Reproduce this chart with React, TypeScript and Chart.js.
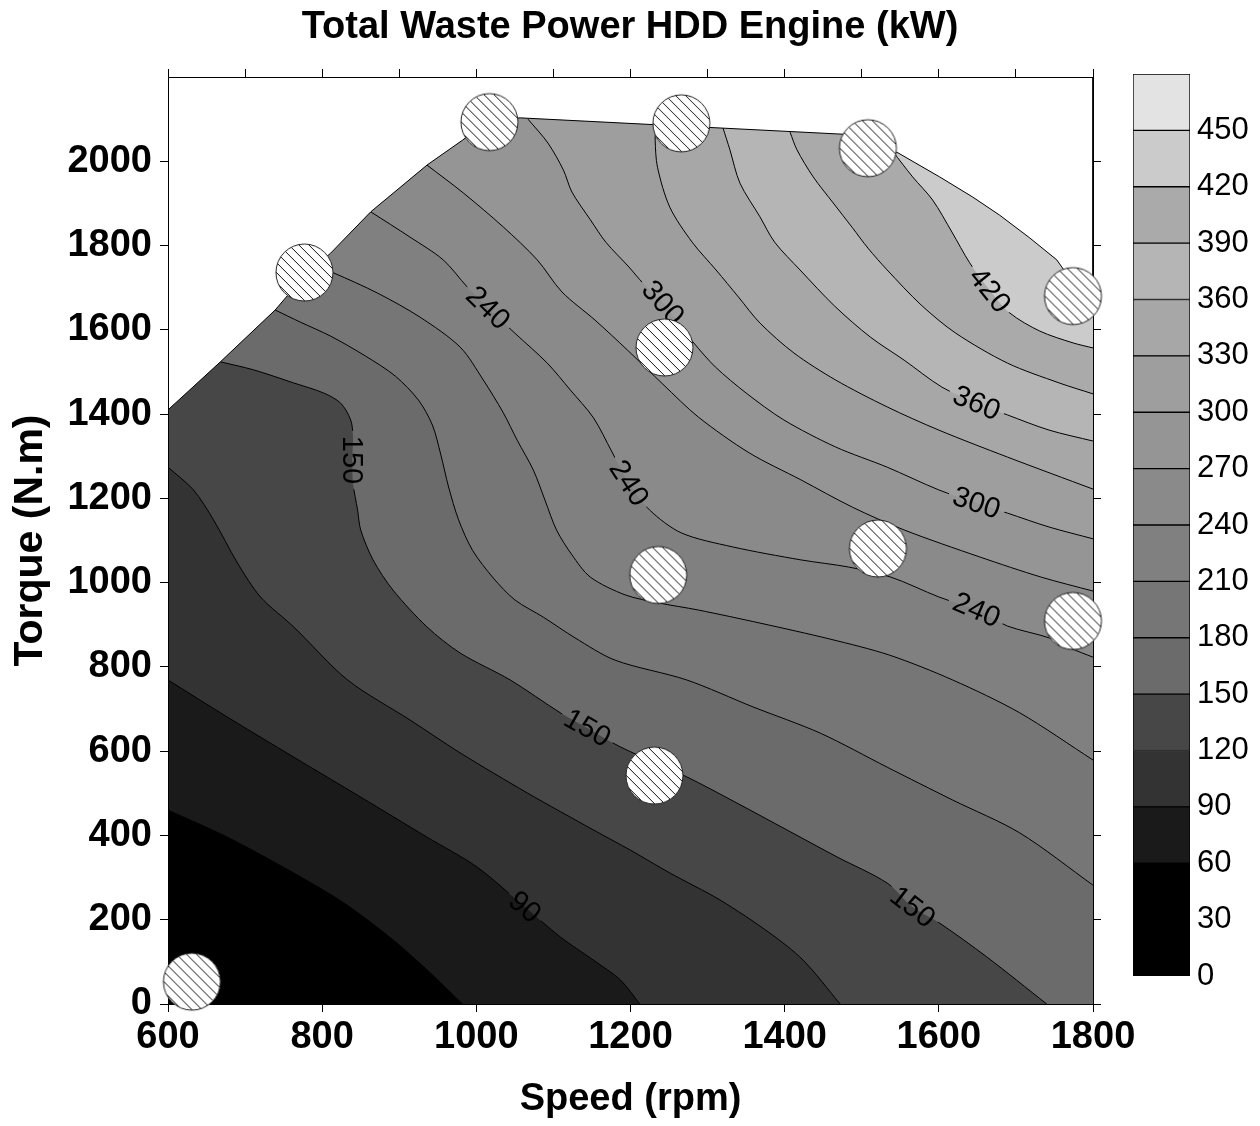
import React, { useEffect, useRef } from 'react';
import { Chart, registerables } from 'chart.js';

Chart.register(...registerables);

const FONT = "'Liberation Sans', Arial, Helvetica, sans-serif";
const LABEL_FONT = `29px ${FONT}`;
const TENSION = 0.3;

// Axis ticks
const speedTicks = [600, 800, 1000, 1200, 1400, 1600, 1800];
const speedMinorTicks = [600, 700, 800, 900, 1000, 1100, 1200, 1300, 1400, 1500, 1600, 1700, 1800];
const torqueTicks = [0, 200, 400, 600, 800, 1000, 1200, 1400, 1600, 1800, 2000];

// Colour scale (kW): band edges, their labels and fills
const legendEdges = [0, 30, 60, 90, 120, 150, 180, 210, 240, 270, 300, 330, 360, 390, 420, 450, 480];
const legendTicks = [0, 30, 60, 90, 120, 150, 180, 210, 240, 270, 300, 330, 360, 390, 420, 450];
const zoneColors = [
  '#000000', '#000000', '#1a1a1a', '#333333', '#474747', '#6b6b6b', '#767676', '#808080',
  '#8a8a8a', '#959595', '#9e9e9e', '#a7a7a7', '#b5b5b5', '#aaaaaa', '#cbcbcb', '#e3e3e3',
];

// Iso-lines of total waste power, [speed rpm, torque N.m]
const contourLevels = [60, 90, 120, 150, 180, 210, 240, 270, 300, 330, 360, 390, 420];
const contour60 = [[600, 460], [677, 396], [763, 311], [828, 240], [892, 152], [936, 81], [982, 0]];
const contour90 = [[600, 769], [677, 681], [763, 586], [850, 491], [936, 396], [1001, 325], [1063, 230], [1109, 159], [1152, 104], [1187, 57], [1212, 0]];
const contour120 = [[600, 1274], [633, 1220], [659, 1149], [690, 1047], [720, 966], [763, 895], [833, 769], [914, 674], [979, 596], [1066, 501], [1152, 413], [1200, 365], [1251, 311], [1316, 247], [1381, 168], [1424, 104], [1472, 0]];
const contour150 = [[668, 1524], [711, 1505], [763, 1474], [802, 1450], [824, 1426], [837, 1386], [840, 1346], [839, 1291], [840, 1236], [846, 1172], [850, 1125], [866, 1054], [892, 982], [936, 895], [979, 833], [1044, 769], [1109, 691], [1144, 655], [1187, 610], [1273, 539], [1338, 477], [1403, 413], [1468, 349], [1533, 287], [1566, 230], [1601, 192], [1662, 112], [1740, 0]];
const contour180 = [[739, 1647], [772, 1618], [811, 1585], [856, 1538], [895, 1490], [925, 1433], [943, 1374], [954, 1303], [964, 1227], [977, 1149], [995, 1077], [1022, 1011], [1050, 959], [1087, 918], [1128, 869], [1180, 816], [1273, 769], [1359, 705], [1446, 643], [1533, 562], [1618, 484], [1705, 406], [1800, 282]];
const contour210 = [[792, 1751], [815, 1735], [872, 1687], [927, 1630], [979, 1559], [1009, 1481], [1035, 1403], [1053, 1338], [1074, 1267], [1089, 1196], [1104, 1125], [1124, 1066], [1148, 1013], [1193, 971], [1236, 952], [1288, 935], [1368, 904], [1459, 866], [1536, 828], [1618, 769], [1705, 691], [1800, 579]];
const contour240 = [[863, 1880], [914, 1820], [957, 1766], [988, 1702], [1015, 1652], [1050, 1592], [1092, 1521], [1122, 1457], [1152, 1391], [1176, 1310], [1198, 1236], [1225, 1172], [1266, 1118], [1332, 1085], [1421, 1054], [1483, 1037], [1538, 1013], [1600, 966], [1649, 935], [1689, 897], [1743, 869], [1770, 845], [1800, 823]];
const contour270 = [[936, 1991], [983, 1925], [1035, 1844], [1079, 1766], [1111, 1690], [1154, 1623], [1196, 1552], [1242, 1471], [1288, 1393], [1354, 1308], [1421, 1244], [1488, 1179], [1555, 1125], [1653, 1061], [1733, 1013], [1800, 980]];
const contour300 = [[1067, 2100], [1093, 2043], [1113, 1979], [1124, 1927], [1148, 1861], [1168, 1808], [1198, 1749], [1216, 1711], [1242, 1664], [1264, 1611], [1282, 1569], [1310, 1512], [1350, 1450], [1399, 1386], [1466, 1322], [1533, 1274], [1600, 1220], [1649, 1189], [1689, 1165], [1743, 1132], [1800, 1104]];
const contour330 = [[1233, 2086], [1232, 2050], [1235, 1986], [1251, 1891], [1280, 1808], [1311, 1742], [1340, 1678], [1368, 1616], [1412, 1545], [1466, 1481], [1533, 1417], [1600, 1362], [1689, 1298], [1800, 1222]];
const contour360 = [[1320, 2079], [1329, 2027], [1342, 1948], [1368, 1868], [1387, 1808], [1420, 1742], [1465, 1656], [1511, 1583], [1555, 1528], [1604, 1464], [1649, 1426], [1689, 1398], [1743, 1362], [1800, 1336]];
const contour390 = [[1407, 2069], [1416, 2027], [1437, 1963], [1463, 1901], [1488, 1842], [1508, 1794], [1533, 1742], [1577, 1659], [1622, 1592], [1689, 1521], [1756, 1474], [1800, 1448]];
const contour420 = [[1540, 2024], [1566, 1963], [1592, 1908], [1617, 1832], [1640, 1759], [1666, 1694], [1692, 1640], [1731, 1597], [1774, 1569], [1800, 1557]];
const contourLines = [contour60, contour90, contour120, contour150, contour180, contour210, contour240, contour270, contour300, contour330, contour360, contour390, contour420];

// Upper limit of the mapped operating range
const domainEdge = [[600, 1410], [668, 1524], [739, 1647], [777, 1728], [811, 1782], [863, 1880], [936, 1991], [982, 2050], [1017, 2098], [1057, 2103], [1478, 2064], [1511, 2048], [1547, 2020], [1601, 1963], [1644, 1915], [1679, 1872], [1718, 1818], [1753, 1766], [1776, 1706], [1800, 1690]];

// Measured operating points
const testPoints = [[631, 53], [777, 1736], [1017, 2093], [1266, 2090], [1508, 2031], [1774, 1680], [1244, 1558], [1521, 1081], [1236, 1018], [1774, 909], [1231, 542]];

// In-line contour labels
const contourLabels = [
  { level: 90, x: 1063, y: 230 },
  { level: 150, x: 839, y: 1291 },
  { level: 150, x: 1144, y: 655 },
  { level: 150, x: 1566, y: 230 },
  { level: 240, x: 1015, y: 1652 },
  { level: 240, x: 1198, y: 1236 },
  { level: 240, x: 1649, y: 935 },
  { level: 300, x: 1242, y: 1664 },
  { level: 300, x: 1649, y: 1189 },
  { level: 360, x: 1649, y: 1426 },
  { level: 420, x: 1666, y: 1694 },
];

const FAR = [[3000, -1000], [3000, 4000], [-1000, 4000]];

const toXY = (pts: number[][]) => pts.map(([x, y]) => ({ x, y }));

// continue an iso-line straight past its end so the filled zone keeps the same curve
const extend = (a: number[], b: number[]) => [a[0] + 3 * (a[0] - b[0]), a[1] + 3 * (a[1] - b[1])];

function zoneOutline(line: number[][]) {
  const n = line.length;
  return [extend(line[0], line[1]), ...line, extend(line[n - 1], line[n - 2]), ...FAR];
}

function makeHatchedMarker(radius: number) {
  const size = Math.ceil(radius * 2 + 4);
  const c = document.createElement('canvas');
  c.width = size;
  c.height = size;
  const g = c.getContext('2d') as CanvasRenderingContext2D;
  const cx = size / 2;
  const cy = size / 2;
  g.beginPath();
  g.arc(cx, cy, radius, 0, Math.PI * 2);
  g.fillStyle = '#ffffff';
  g.fill();
  g.save();
  g.clip();
  g.strokeStyle = '#111111';
  g.lineWidth = 1;
  for (let k = -size + 3; k <= size; k += 10) {
    g.beginPath();
    g.moveTo(k, 0);
    g.lineTo(k + size, size);
    g.stroke();
  }
  g.restore();
  g.beginPath();
  g.arc(cx, cy, radius, 0, Math.PI * 2);
  g.strokeStyle = '#222222';
  g.lineWidth = 1;
  g.stroke();
  return c;
}

function labelGeometry(chart: any) {
  const xs = chart.scales.x;
  const ys = chart.scales.y;
  const ctx = chart.ctx as CanvasRenderingContext2D;
  ctx.save();
  ctx.font = LABEL_FONT;
  const out = contourLabels.map((lb) => {
    const pts = contourLines[contourLevels.indexOf(lb.level)];
    let best = 0;
    let bd = Infinity;
    pts.forEach((p, i) => {
      const d = (p[0] - lb.x) ** 2 + (p[1] - lb.y) ** 2;
      if (d < bd) { bd = d; best = i; }
    });
    const a = pts[Math.max(best - 1, 0)];
    const b = pts[Math.min(best + 1, pts.length - 1)];
    const ax = xs.getPixelForValue(a[0]);
    const ay = ys.getPixelForValue(a[1]);
    const bx = xs.getPixelForValue(b[0]);
    const by = ys.getPixelForValue(b[1]);
    let ang = Math.atan2(by - ay, bx - ax);
    if (ang > Math.PI / 2) ang -= Math.PI;
    if (ang <= -Math.PI / 2) ang += Math.PI;
    const text = String(lb.level);
    return { x: xs.getPixelForValue(lb.x), y: ys.getPixelForValue(lb.y), ang, text, w: ctx.measureText(text).width };
  });
  ctx.restore();
  return out;
}

const contourDecor = {
  id: 'contourDecor',
  beforeDatasetDraw(chart: any, args: any) {
    const ds = chart.data.datasets[args.index];
    if (ds.role !== 'line') return;
    const ctx = chart.ctx as CanvasRenderingContext2D;
    ctx.save();
    ctx.beginPath();
    ctx.rect(0, 0, chart.width, chart.height);
    for (const g of labelGeometry(chart)) {
      const hw = g.w / 2 + 5;
      const hh = 14;
      const c = Math.cos(g.ang);
      const s = Math.sin(g.ang);
      const corners = [[-hw, -hh], [hw, -hh], [hw, hh], [-hw, hh]].map(([u, v]) => [g.x + u * c - v * s, g.y + u * s + v * c]);
      ctx.moveTo(corners[0][0], corners[0][1]);
      for (let i = 1; i < 4; i++) ctx.lineTo(corners[i][0], corners[i][1]);
      ctx.closePath();
    }
    ctx.clip('evenodd');
  },
  afterDatasetDraw(chart: any, args: any) {
    const ds = chart.data.datasets[args.index];
    const ctx = chart.ctx as CanvasRenderingContext2D;
    if (ds.role === 'line') {
      ctx.restore();
      return;
    }
    if (ds.role !== 'mask') return;
    const { left, right, top, bottom } = chart.chartArea;
    ctx.save();
    ctx.strokeStyle = '#000000';
    ctx.lineWidth = 1;
    ctx.beginPath();
    ctx.moveTo(left + 0.5, top + 0.5);
    ctx.lineTo(right + 0.5, top + 0.5);
    ctx.lineTo(right + 0.5, bottom + 0.5);
    ctx.lineTo(left + 0.5, bottom + 0.5);
    ctx.closePath();
    ctx.stroke();
    ctx.font = LABEL_FONT;
    ctx.fillStyle = '#000000';
    ctx.textAlign = 'center';
    ctx.textBaseline = 'middle';
    for (const g of labelGeometry(chart)) {
      ctx.save();
      ctx.translate(g.x, g.y);
      ctx.rotate(g.ang);
      ctx.fillText(g.text, 0, 1);
      ctx.restore();
    }
    ctx.restore();
  },
};

const tickFont = { family: FONT, size: 38, weight: 'bold' as const };
const axisGrid = { drawOnChartArea: false, drawTicks: true, tickLength: 8, color: '#000000', lineWidth: 1 };
const axisBorder = { display: true, color: '#000000', width: 1 };

export default function App() {
  const mainRef = useRef<HTMLCanvasElement>(null);
  const barRef = useRef<HTMLCanvasElement>(null);

  useEffect(() => {
    const marker = makeHatchedMarker(28.5);

    const datasets: any[] = [];
    datasets.push({
      role: 'base',
      data: toXY([[-1000, -1000], [3000, -1000], [3000, 4000], [-1000, 4000]]),
      showLine: true, fill: 'shape', backgroundColor: zoneColors[0], borderColor: 'rgba(0,0,0,0)',
      borderWidth: 0, pointRadius: 0, tension: 0, order: 100,
    });
    contourLevels.forEach((lvl, i) => {
      datasets.push({
        role: 'band',
        data: toXY(zoneOutline(contourLines[i])),
        showLine: true, fill: 'shape', backgroundColor: zoneColors[lvl / 30], borderColor: 'rgba(0,0,0,0)',
        borderWidth: 0, pointRadius: 0, tension: TENSION, order: 90 - i,
      });
    });
    contourLevels.forEach((lvl, i) => {
      datasets.push({
        role: 'line',
        data: toXY(contourLines[i]),
        showLine: true, fill: false, borderColor: '#000000', borderWidth: 1,
        pointRadius: 0, tension: TENSION, order: 10,
      });
    });
    datasets.push({
      role: 'mask',
      data: toXY([[1800, 2200], ...domainEdge.slice().reverse(), [600, 2200]]),
      showLine: true, fill: 'shape', backgroundColor: '#ffffff', borderColor: '#000000',
      borderWidth: 1, pointRadius: 0, tension: 0, order: 5,
    });
    datasets.push({
      role: 'points',
      data: toXY(testPoints),
      showLine: false, pointStyle: marker, pointRadius: 29, clip: false, order: 0,
    });

    const main = new Chart(mainRef.current as HTMLCanvasElement, {
      type: 'scatter',
      data: { datasets },
      options: {
        responsive: false,
        animation: false,
        events: [],
        layout: { padding: 0 },
        elements: { line: { capBezierPoints: false } },
        plugins: {
          legend: { display: false },
          tooltip: { enabled: false },
          title: {
            display: true,
            text: 'Total Waste Power HDD Engine (kW)',
            color: '#000000',
            font: { family: FONT, size: 38, weight: 'bold', lineHeight: 1.2 },
            padding: { top: 4.7, bottom: 18.7 },
          },
        },
        scales: {
          x: {
            type: 'linear', position: 'bottom', min: 600, max: 1800,
            afterBuildTicks: (s: any) => { s.ticks = speedTicks.map((v) => ({ value: v })); },
            afterFit: (s: any) => { s.height = 122; },
            ticks: { color: '#000000', font: tickFont, padding: 3, autoSkip: false, maxRotation: 0, callback: (v: any) => String(v) },
            grid: axisGrid, border: axisBorder,
            title: { display: true, text: 'Speed (rpm)', color: '#000000', font: tickFont, padding: { top: 4, bottom: 4 } },
          },
          x2: {
            type: 'linear', position: 'top', min: 600, max: 1800,
            afterBuildTicks: (s: any) => { s.ticks = speedMinorTicks.map((v) => ({ value: v })); },
            afterFit: (s: any) => { s.height = 8; },
            ticks: { display: false },
            grid: axisGrid, border: axisBorder,
          },
          y: {
            type: 'linear', position: 'left', min: 0, max: 2200,
            afterBuildTicks: (s: any) => { s.ticks = torqueTicks.map((v) => ({ value: v })); },
            afterFit: (s: any) => { s.width = 168; },
            ticks: { color: '#000000', font: tickFont, padding: 8, autoSkip: false, callback: (v: any) => String(v) },
            grid: axisGrid, border: axisBorder,
            title: { display: true, text: 'Torque (N.m)', color: '#000000', font: { family: FONT, size: 41, weight: 'bold' }, padding: { top: 6, bottom: 4 } },
          },
          y2: {
            type: 'linear', position: 'right', min: 0, max: 2200,
            afterBuildTicks: (s: any) => { s.ticks = torqueTicks.map((v) => ({ value: v })); },
            afterFit: (s: any) => { s.width = 167; },
            ticks: { display: false },
            grid: axisGrid, border: axisBorder,
          },
        },
      } as any,
      plugins: [contourDecor],
    });

    const bar = new Chart(barRef.current as HTMLCanvasElement, {
      type: 'bar',
      data: {
        labels: [''],
        datasets: zoneColors.map((c, i) => ({
          data: [[legendEdges[i], legendEdges[i + 1]]],
          backgroundColor: c,
          borderColor: '#000000',
          borderWidth: 1,
          borderSkipped: false,
          grouped: false,
          barPercentage: 1,
          categoryPercentage: 1,
        })),
      } as any,
      options: {
        responsive: false,
        animation: false,
        events: [],
        layout: { padding: { left: 23, top: 74, bottom: 150, right: 0 } },
        plugins: { legend: { display: false }, tooltip: { enabled: false } },
        scales: {
          x: { display: false },
          y: {
            type: 'linear', position: 'right', min: 0, max: 480,
            afterBuildTicks: (s: any) => { s.ticks = legendTicks.map((v) => ({ value: v })); },
            afterFit: (s: any) => { s.width = 70; },
            grid: { display: false, drawTicks: false },
            border: { display: false },
            ticks: { color: '#000000', font: { family: FONT, size: 31 }, padding: 7, autoSkip: false, callback: (v: any) => String(v) },
          },
        },
      } as any,
    });

    return () => {
      main.destroy();
      bar.destroy();
    };
  }, []);

  return (
    <div style={{ position: 'absolute', left: 0, top: 0, width: 1260, height: 1126, background: '#ffffff' }}>
      <canvas ref={mainRef} width={1260} height={1126} style={{ position: 'absolute', left: 0, top: 0, width: 1260, height: 1126 }} />
      <canvas ref={barRef} width={150} height={1126} style={{ position: 'absolute', left: 1110, top: 0, width: 150, height: 1126 }} />
    </div>
  );
}
